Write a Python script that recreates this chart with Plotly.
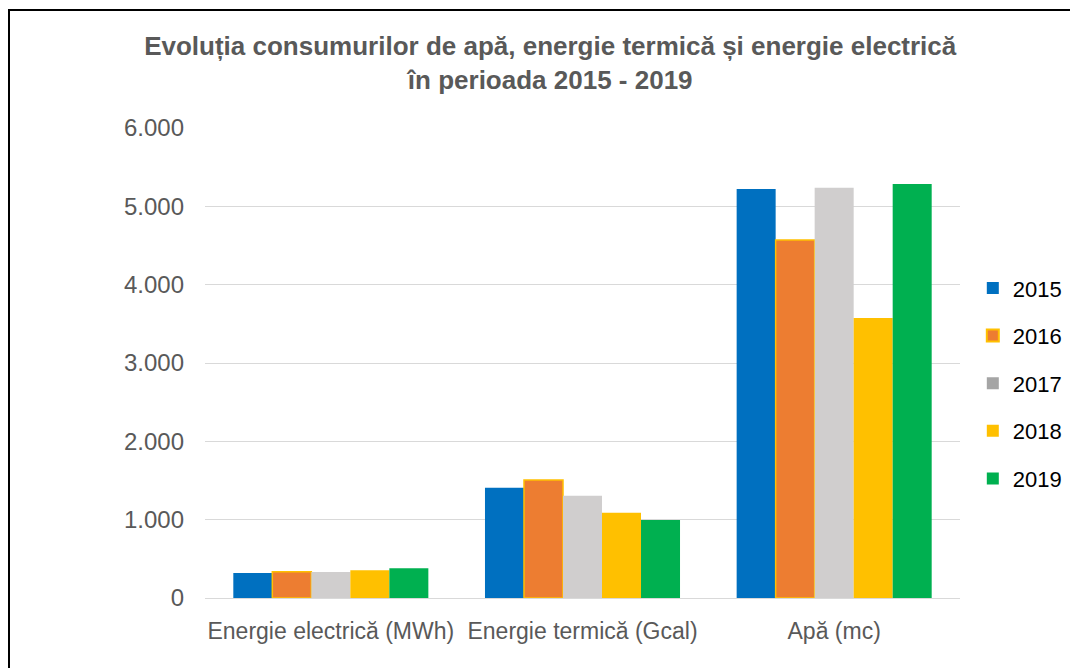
import plotly.graph_objects as go

categories = ["Energie electrică (MWh)", "Energie termică (Gcal)", "Apă (mc)"]
years = ["2015", "2016", "2017", "2018", "2019"]
values = {
    "2015": [318, 1408, 5221],
    "2016": [336, 1506, 4570],
    "2017": [332, 1306, 5238],
    "2018": [354, 1089, 3574],
    "2019": [379, 996, 5285],
}
bar_colors = ["#0070C0", "#ED7D31", "#D0CECE", "#FFC000", "#00B050"]
legend_colors = ["#0070C0", "#ED7D31", "#A5A5A5", "#FFC000", "#00B050"]
y_ticks = [0, 1000, 2000, 3000, 4000, 5000, 6000]

FONT = "Liberation Sans, Arial, sans-serif"
GREY_TEXT = "#595959"

fig = go.Figure()
for i, yr in enumerate(years):
    outline = dict(color="#FFC000", width=1.5) if yr == "2016" else dict(width=0)
    fig.add_trace(go.Bar(
        x=categories, y=values[yr], name=yr,
        marker=dict(color=bar_colors[i], line=outline),
        showlegend=False,
    ))

# legend proxies (legend swatches differ slightly from the bars)
for i, yr in enumerate(years):
    edge = dict(color="#FFC000", width=2) if yr == "2016" else dict(width=0)
    fig.add_trace(go.Scatter(
        x=[None], y=[None], mode="markers", name=yr, legendgroup=yr,
        marker=dict(symbol="square", size=15, color=legend_colors[i], line=edge),
    ))

# the page body adds an 8px offset; margins compensate for it
fig.update_layout(
    width=1078, height=668,
    margin=dict(l=197, r=126, t=120, b=78, autoexpand=False),
    barmode="group", bargap=0.225, bargroupgap=0,
    separators=",.",
    plot_bgcolor="white", paper_bgcolor="white",
    font=dict(family=FONT, color=GREY_TEXT),
    title=dict(
        text="<b>Evoluția consumurilor de apă, energie termică și energie electrică<br>în perioada 2015 - 2019</b>",
        x=0.503, xanchor="center", y=0.93, yanchor="middle",
        font=dict(size=26, color=GREY_TEXT, family=FONT),
    ),
    legend=dict(
        xref="container", yref="container", x=0.895, xanchor="left",
        y=0.612, yanchor="top", bgcolor="rgba(0,0,0,0)",
        font=dict(size=22, color="black", family=FONT),
        tracegroupgap=16, itemsizing="constant",
    ),
    xaxis=dict(
        showgrid=False, showline=True, linecolor="#D9D9D9", linewidth=1,
        tickangle=0, automargin=False,
        tickfont=dict(size=23, color=GREY_TEXT), ticklabelstandoff=12,
    ),
    yaxis=dict(
        range=[0, 6000], tickvals=y_ticks, tickformat=",.0f",
        showgrid=True, gridcolor="#D9D9D9", gridwidth=1, zeroline=False,
        showline=False, automargin=False,
        tickfont=dict(size=24, color=GREY_TEXT), ticklabelstandoff=20,
    ),
    shapes=[dict(
        type="rect", xref="paper", yref="paper",
        x0=-0.2596, x1=1.1497, y0=-0.3, y1=1.251,
        line=dict(color="black", width=2), fillcolor="rgba(0,0,0,0)", layer="below",
    )],
)

fig.write_html("out.html")
